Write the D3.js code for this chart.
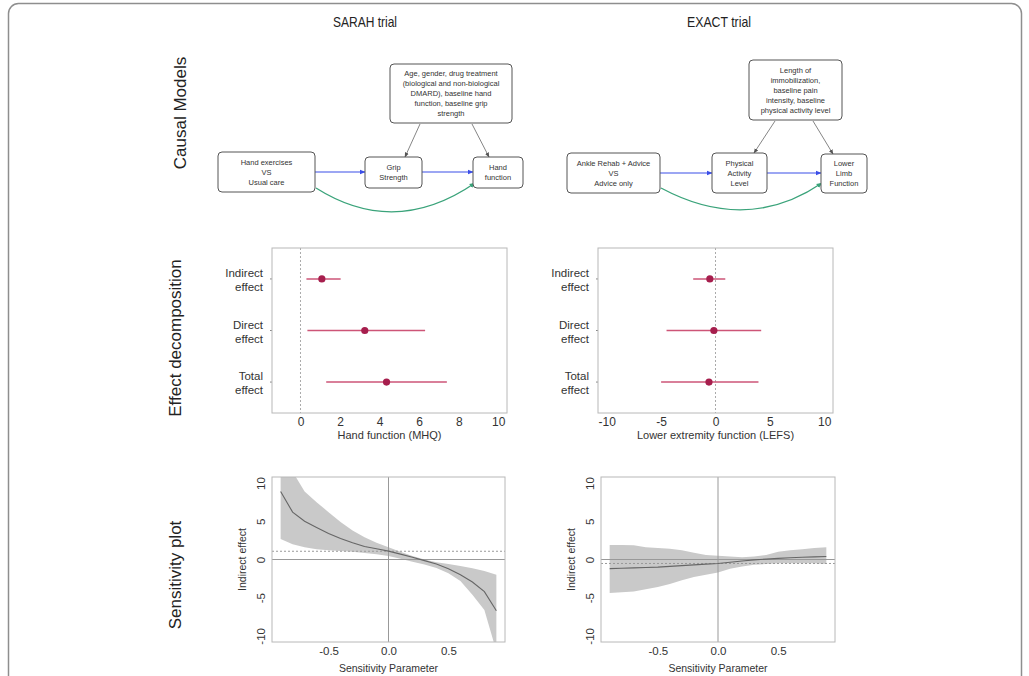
<!DOCTYPE html>
<html><head><meta charset="utf-8">
<script src="https://cdn.jsdelivr.net/npm/d3@7"></script>
<style>
html,body{margin:0;padding:0;background:#fff;}
svg{display:block;font-family:"Liberation Sans",Arial,sans-serif;}
</style></head>
<body><svg id="c" width="1029" height="676"></svg>
<script>
// ---------------- DATA ----------------
const trials = ["SARAH trial", "EXACT trial"];
const rowLabels = ["Causal Models", "Effect decomposition", "Sensitivity plot"];

// causal model box texts
const sarahTreatment = ["Hand exercises", "VS", "Usual care"];
const sarahMediator = ["Grip", "Strength"];
const sarahOutcome = ["Hand", "function"];
const sarahConfounders = ["Age, gender, drug treatment", "(biological and non-biological", "DMARD), baseline hand", "function, baseline grip", "strength"];
const exactTreatment = ["Ankle Rehab + Advice", "VS", "Advice only"];
const exactMediator = ["Physical", "Activity", "Level"];
const exactOutcome = ["Lower", "Limb", "Function"];
const exactConfounders = ["Length of", "immobilization,", "baseline pain", "intensity, baseline", "physical activity level"];

// effect decomposition
const effectNames = [["Indirect", "effect"], ["Direct", "effect"], ["Total", "effect"]];
const sarahEst = [1.08, 3.25, 4.35];
const sarahLo = [0.30, 0.35, 1.30];
const sarahHi = [2.03, 6.30, 7.40];
const exactEst = [-0.52, -0.15, -0.60];
const exactLo = [-2.05, -4.50, -5.00];
const exactHi = [0.90, 4.20, 3.95];
const sarahXTicks = [0, 2, 4, 6, 8, 10];
const exactXTicks = [-10, -5, 0, 5, 10];
const sarahXLabel = "Hand function (MHQ)";
const exactXLabel = "Lower extremity function (LEFS)";

// sensitivity analysis (rho from -0.9 to 0.9 by 0.1)
const rho = [-0.9,-0.8,-0.7,-0.6,-0.5,-0.4,-0.3,-0.2,-0.1,0,0.1,0.2,0.3,0.4,0.5,0.6,0.7,0.8,0.9];
const sarahSensEst = [8.9,6.2,5.0,4.2,3.4,2.75,2.2,1.7,1.4,1.1,0.7,0.3,-0.15,-0.6,-1.2,-2.0,-2.95,-4.2,-6.7];
const sarahSensHi  = [15,11.5,8.9,7.5,6.2,4.9,3.8,2.9,2.2,1.6,1.0,0.45,0.0,-0.35,-0.6,-0.85,-1.15,-1.5,-2.0];
const sarahSensLo  = [2.7,2.0,1.6,1.35,1.2,1.1,1.0,0.85,0.7,0.45,0.1,-0.3,-0.65,-1.1,-1.8,-2.8,-4.6,-6.6,-12];
const exactSensEst = [-1.2,-1.15,-1.1,-1.05,-1.0,-0.9,-0.8,-0.7,-0.6,-0.52,-0.35,-0.2,-0.05,0.05,0.15,0.22,0.3,0.35,0.4];
const exactSensHi  = [1.9,1.9,1.85,1.6,1.5,1.4,1.2,0.9,0.6,0.5,0.4,0.3,0.4,0.6,1.0,1.2,1.35,1.5,1.6];
const exactSensLo  = [-4.4,-4.3,-4.2,-3.9,-3.6,-3.2,-2.7,-2.3,-2.0,-1.7,-1.2,-0.9,-0.7,-0.6,-0.5,-0.5,-0.5,-0.5,-0.6];
const sensXTicks = [-0.5, 0, 0.5];
const sensYTicks = [-10, -5, 0, 5, 10];
const sensXLabel = "Sensitivity Parameter";
const sensYLabel = "Indirect effect";

// ---------------- DRAW ----------------
const svg = d3.select("#c");
const txt = "#333";
const fmtInt = d => String(d);                 // ASCII hyphen-minus like R
const fmt1 = d => d.toFixed(1).replace("−", "-");

// outer frame
svg.append("rect").attr("x", 8.5).attr("y", 3.5).attr("width", 1013).attr("height", 720)
  .attr("rx", 10).attr("fill", "none").attr("stroke", "#8e8e8e").attr("stroke-width", 1.5);

// column titles
[[365, trials[0]], [719, trials[1]]].forEach(([x, t]) => {
  svg.append("text").attr("x", x).attr("y", 27).attr("text-anchor", "middle")
    .attr("font-size", 15).attr("fill", "#222").attr("textLength", 64).attr("lengthAdjust", "spacingAndGlyphs").text(t);
});

// row labels
[[180, 113, rowLabels[0]], [175, 338, rowLabels[1]], [175, 575, rowLabels[2]]].forEach(([x, y, t]) => {
  svg.append("text").attr("transform", `translate(${x},${y}) rotate(-90)`).attr("text-anchor", "middle")
    .attr("dy", "0.35em").attr("font-size", 17).attr("fill", "#222").text(t);
});

// markers
const defs = svg.append("defs");
function marker(id, color, size) {
  defs.append("marker").attr("id", id).attr("viewBox", "0 0 10 10").attr("refX", 9).attr("refY", 5)
    .attr("markerWidth", size).attr("markerHeight", size).attr("orient", "auto").attr("markerUnits", "userSpaceOnUse")
    .append("path").attr("d", "M0,1 L10,5 L0,9 Z").attr("fill", color);
}
marker("mBlue", "#3b4ee8", 6);
marker("mGray", "#555", 5);
marker("mGreen", "#3aa37a", 6);

function box(b, lines) {
  const [x0, x1, y0, y1] = b;
  svg.append("rect").attr("x", x0).attr("y", y0).attr("width", x1 - x0).attr("height", y1 - y0)
    .attr("rx", 4).attr("fill", "#fff").attr("stroke", "#555").attr("stroke-width", 1);
  const cy = (y0 + y1) / 2, lh = 10;
  lines.forEach((l, i) => {
    svg.append("text").attr("x", (x0 + x1) / 2).attr("y", cy + (i - (lines.length - 1) / 2) * lh)
      .attr("dy", "0.35em").attr("text-anchor", "middle").attr("font-size", 7.5).attr("fill", txt).text(l);
  });
}
function line(p, color, w, m) {
  svg.append("line").attr("x1", p[0]).attr("y1", p[1]).attr("x2", p[2]).attr("y2", p[3])
    .attr("stroke", color).attr("stroke-width", w).attr("marker-end", `url(#${m})`);
}
function curve(p, color) {
  svg.append("path").attr("d", `M${p[0]},${p[1]} Q${p[2]},${p[3]} ${p[4]},${p[5]}`)
    .attr("fill", "none").attr("stroke", color).attr("stroke-width", 1.3).attr("marker-end", "url(#mGreen)");
}

// SARAH causal model
line([315, 172, 365, 172], "#3b4ee8", 1.1, "mBlue");
line([422, 172, 473, 172], "#3b4ee8", 1.1, "mBlue");
line([420, 124, 405, 157], "#666", 0.8, "mGray");
line([472, 124, 489, 157], "#666", 0.8, "mGray");
curve([316, 188, 395, 238, 475, 183], "#3aa37a");
box([218, 315, 152, 192], sarahTreatment);
box([365, 422, 157, 188], sarahMediator);
box([473, 523, 157, 188], sarahOutcome);
box([390, 512, 64, 123], sarahConfounders);

// EXACT causal model
line([660, 173, 712, 173], "#3b4ee8", 1.1, "mBlue");
line([767, 173, 821, 173], "#3b4ee8", 1.1, "mBlue");
line([775, 121, 754, 153], "#666", 0.8, "mGray");
line([813, 121, 833, 154], "#666", 0.8, "mGray");
curve([661, 188, 747, 234, 822, 183], "#3aa37a");
box([567, 660, 153, 193], exactTreatment);
box([712, 767, 153, 193], exactMediator);
box([821, 867, 154, 193], exactOutcome);
box([749, 842, 60, 120], exactConfounders);

// ---------- effect decomposition ----------
function forest(x0, x1, xdom, ticks, est, lo, hi, xlabel) {
  const y0 = 248, y1 = 413;
  const x = d3.scaleLinear().domain(xdom).range([x0, x1]);
  const y = d3.scaleLinear().domain([0.4, 3.6]).range([y0, y1]);
  const g = svg.append("g");
  g.append("line").attr("x1", x(0)).attr("x2", x(0)).attr("y1", y0).attr("y2", y1)
    .attr("stroke", "#aaa").attr("stroke-width", 1).attr("stroke-dasharray", "2,2");
  est.forEach((e, i) => {
    g.append("line").attr("x1", x(lo[i])).attr("x2", x(hi[i])).attr("y1", y(i + 1)).attr("y2", y(i + 1))
      .attr("stroke", "#cd5577").attr("stroke-width", 1.6);
    g.append("circle").attr("cx", x(e)).attr("cy", y(i + 1)).attr("r", 3.6).attr("fill", "#a61e4d");
    effectNames[i].forEach((t, j) => {
      g.append("text").attr("x", x0 - 9).attr("y", y(i + 1) + (j === 0 ? -6 : 8)).attr("dy", "0.35em")
        .attr("text-anchor", "end").attr("font-size", 11.5).attr("fill", txt).text(t);
    });
    g.append("line").attr("x1", x0 - 2).attr("x2", x0).attr("y1", y(i + 1)).attr("y2", y(i + 1))
      .attr("stroke", "#888").attr("stroke-width", 1);
  });
  g.append("rect").attr("x", x0).attr("y", y0).attr("width", x1 - x0).attr("height", y1 - y0)
    .attr("fill", "none").attr("stroke", "#b8b8b8").attr("stroke-width", 1);
  const ax = g.append("g").attr("transform", `translate(0,${y1})`)
    .call(d3.axisBottom(x).tickValues(ticks).tickSize(0).tickPadding(4).tickFormat(fmtInt));
  ax.select(".domain").remove();
  ax.selectAll("text").attr("font-size", 12).attr("fill", txt).attr("font-family", "Liberation Sans, Arial, sans-serif");
  g.append("text").attr("x", (x0 + x1) / 2).attr("y", 439).attr("text-anchor", "middle")
    .attr("font-size", 11).attr("fill", txt).text(xlabel);
}
forest(272, 507, [-1.44, 10.44], sarahXTicks, sarahEst, sarahLo, sarahHi, sarahXLabel);
forest(598, 833, [-10.8, 10.8], exactXTicks, exactEst, exactLo, exactHi, exactXLabel);

// ---------- sensitivity plots ----------
function sens(x0, x1, id, est, lo, hi, dotted) {
  const y0 = 477, y1 = 642;
  const x = d3.scaleLinear().domain([-0.972, 0.972]).range([x0, x1]);
  const y = d3.scaleLinear().domain([-10.8, 10.8]).range([y1, y0]);
  const g = svg.append("g");
  defs.append("clipPath").attr("id", id).append("rect").attr("x", x0).attr("y", y0).attr("width", x1 - x0).attr("height", y1 - y0);
  const pg = g.append("g").attr("clip-path", `url(#${id})`);
  const data = rho.map((r, i) => ({ r, e: est[i], lo: lo[i], hi: hi[i] }));
  pg.append("path").datum(data)
    .attr("d", d3.area().x(d => x(d.r)).y0(d => y(d.lo)).y1(d => y(d.hi)))
    .attr("fill", "#c9c9c9");
  pg.append("line").attr("x1", x0).attr("x2", x1).attr("y1", y(0)).attr("y2", y(0)).attr("stroke", "#999").attr("stroke-width", 1);
  pg.append("line").attr("x1", x(0)).attr("x2", x(0)).attr("y1", y0).attr("y2", y1).attr("stroke", "#999").attr("stroke-width", 1);
  pg.append("line").attr("x1", x0).attr("x2", x1).attr("y1", y(dotted)).attr("y2", y(dotted))
    .attr("stroke", "#999").attr("stroke-width", 1).attr("stroke-dasharray", "2,2");
  pg.append("path").datum(data).attr("d", d3.line().x(d => x(d.r)).y(d => y(d.e)))
    .attr("fill", "none").attr("stroke", "#666").attr("stroke-width", 1.1);
  g.append("rect").attr("x", x0).attr("y", y0).attr("width", x1 - x0).attr("height", y1 - y0)
    .attr("fill", "none").attr("stroke", "#b8b8b8").attr("stroke-width", 1);
  const ax = g.append("g").attr("transform", `translate(0,${y1})`)
    .call(d3.axisBottom(x).tickValues(sensXTicks).tickSize(0).tickPadding(5).tickFormat(fmt1));
  ax.select(".domain").remove();
  ax.selectAll("text").attr("font-size", 11.5).attr("fill", txt).attr("font-family", "Liberation Sans, Arial, sans-serif");
  const ay = g.append("g").attr("transform", `translate(${x0},0)`)
    .call(d3.axisLeft(y).tickValues(sensYTicks).tickSize(0).tickFormat(fmtInt));
  ay.select(".domain").remove();
  ay.selectAll("text").attr("transform", "rotate(-90)").attr("x", 0).attr("y", -7).attr("dy", "0")
    .attr("text-anchor", "middle").attr("font-size", 11.5).attr("fill", txt).attr("font-family", "Liberation Sans, Arial, sans-serif");
  g.append("text").attr("x", (x0 + x1) / 2).attr("y", 672).attr("text-anchor", "middle")
    .attr("font-size", 10.5).attr("fill", txt).text(sensXLabel);
  g.append("text").attr("transform", `translate(${x0 - 30},${(y0 + y1) / 2}) rotate(-90)`).attr("text-anchor", "middle")
    .attr("dy", "0.35em").attr("font-size", 10.5).attr("fill", txt).text(sensYLabel);
}
sens(272, 505, "clipS", sarahSensEst, sarahSensLo, sarahSensHi, sarahEst[0]);
sens(601, 835, "clipE", exactSensEst, exactSensLo, exactSensHi, exactEst[0]);
</script></body></html>
